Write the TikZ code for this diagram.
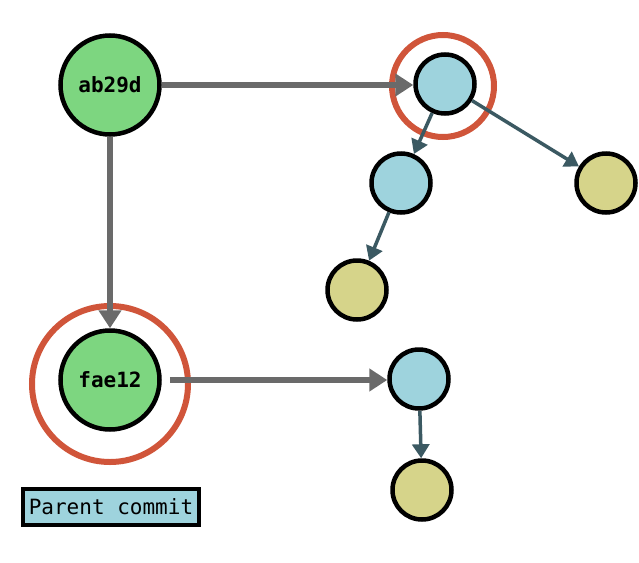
\documentclass[tikz,border=0pt]{standalone}
\usepackage{fontspec}
\setmonofont{DejaVu Sans Mono}
\usetikzlibrary{arrows.meta}
\definecolor{cgreen}{HTML}{7DD680}
\definecolor{cblue}{HTML}{9ED3DD}
\definecolor{cyellow}{HTML}{D6D48A}
\definecolor{cred}{HTML}{D0553A}
\definecolor{cgray}{HTML}{6A6A6A}
\definecolor{cteal}{HTML}{3B5962}
\tikzset{
  big/.style={circle, draw=black, line width=4.5pt, fill=cgreen, minimum size=99pt, inner sep=0pt, font=\ttfamily\bfseries\fontsize{21}{21}\selectfont},
  bluenode/.style={circle, draw=black, line width=4.5pt, fill=cblue, minimum size=59pt, inner sep=0pt},
  yellownode/.style={circle, draw=black, line width=4.5pt, fill=cyellow, minimum size=59pt, inner sep=0pt},
  grayarrow/.style={draw=cgray, line width=6pt, -{Triangle[length=18pt,width=22pt]}},
  tealarrow/.style={draw=cteal, line width=3.5pt, -{Triangle[length=14pt,width=17pt]}},
  ring/.style={draw=cred, line width=6pt},
  legend/.style={draw=black, line width=4pt, fill=cblue, minimum width=176pt, minimum height=36pt, inner sep=0pt, font=\ttfamily\fontsize{21}{21}\selectfont}
}
\begin{document}
\begin{tikzpicture}[x=1pt,y=-1pt]
\useasboundingbox (0,0) rectangle (639,562);
% rings
\draw[ring] (110,384) circle (78);
\draw[ring] (443,86) circle (51);
% nodes
\node[big] (a) at (110,85) {ab29d};
\node[big] (f) at (110,380) {fae12};
\node[bluenode] (b1) at (445,84) {};
\node[bluenode] (b2) at (401,183) {};
\node[yellownode] (y1) at (606,183) {};
\node[yellownode] (y2) at (357,290) {};
\node[bluenode] (b3) at (419,379) {};
\node[yellownode] (y3) at (422,490) {};
\node[legend] (lg) at (111,507) {Parent commit};
% gray arrows
\draw[grayarrow] (a.east) -- (a.east -| b1.west);
\draw[grayarrow] (a.south) -- (f.north);
\draw[grayarrow, shorten <=8pt] (f.east) -- (f.east -| b3.west);
% teal arrows
\draw[tealarrow] (b1) -- (b2);
\draw[tealarrow] (b1) -- (y1);
\draw[tealarrow] (b2) -- (y2);
\draw[tealarrow] (b3) -- (y3);
\end{tikzpicture}
\end{document}
